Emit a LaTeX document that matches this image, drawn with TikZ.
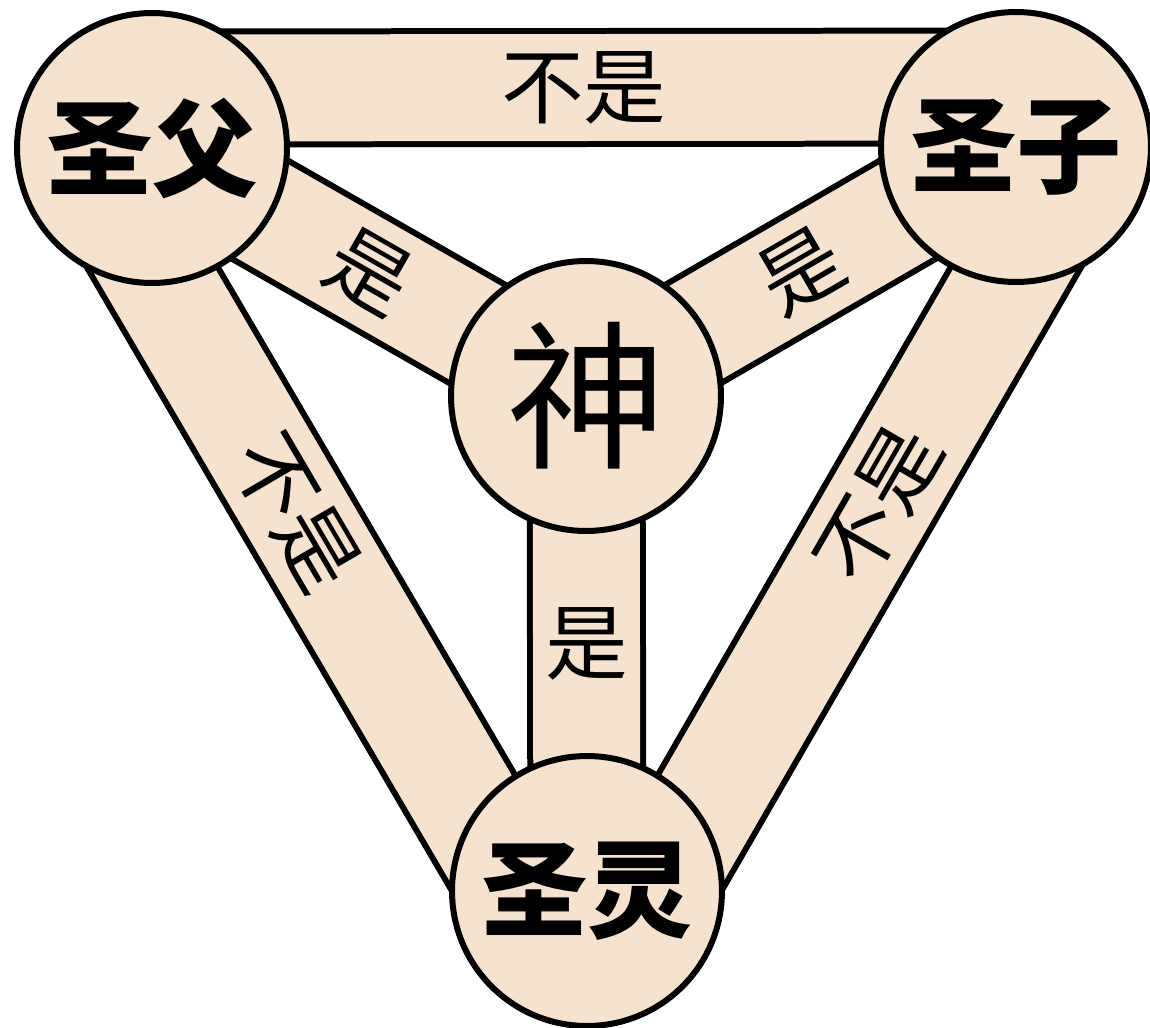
\documentclass[tikz,border=0pt]{standalone}
\usepackage{fontspec}
\newfontfamily\cjk{Noto Sans CJK SC}
\usetikzlibrary{calc}
\pgfdeclarelayer{background}
\pgfsetlayers{background,main}
\definecolor{shieldfill}{HTML}{F5E3CF}
\tikzset{
  person/.style={circle,draw=black,line width=0.12cm,fill=shieldfill,minimum size=5.4cm,inner sep=0pt,font=\cjk\bfseries\fontsize{60pt}{60pt}\selectfont},
  godhead/.style={person,font=\cjk\fontsize{91pt}{91pt}\selectfont},
  band/.style={draw=black,line width=0.12cm,double=shieldfill,double distance=2.14cm},
  bandlabel/.style={inner sep=0pt,font=\cjk\fontsize{47pt}{47pt}\selectfont}
}
\begin{document}
\begin{tikzpicture}[x=0.02cm,y=-0.02cm]
                  \useasboundingbox (0,0) rectangle (1150,1028);
                  \node [person] (father) at (152,148) {圣父};
                  \node [person] (son) at (1016,147) {圣子};
                  \node [person] (spirit) at (587,891) {圣灵};
                  \node [godhead] (god) at (586,396) {神};
                  \coordinate (fs1) at ($(father.center)!1.2cm!90:(son.center)$);
                  \coordinate (fs2) at ($(son.center)!1.2cm!-90:(father.center)$);
                  \coordinate (sh1) at ($(son.center)!1.2cm!90:(spirit.center)$);
                  \coordinate (sh2) at ($(spirit.center)!1.2cm!-90:(son.center)$);
                  \coordinate (hf1) at ($(spirit.center)!1.2cm!90:(father.center)$);
                  \coordinate (hf2) at ($(father.center)!1.2cm!-90:(spirit.center)$);
                  \begin{pgfonlayer}{background}
                  \fill [white] (0,0) rectangle (1150,1028);
                  \draw [band] (fs1) -- (fs2) node [bandlabel,midway] {不是};
                  \draw [band] (sh1) -- (sh2) node [bandlabel,pos=0.44,sloped] {不是};
                  \draw [band] (hf2) -- (hf1) node [bandlabel,pos=0.45,sloped] {不是};
                  \draw [band] (god.center) -- (father.center) node [bandlabel,midway,sloped] {是};
                  \draw [band] (god.center) -- (son.center) node [bandlabel,midway,sloped] {是};
                  \draw [band] (god.center) -- (spirit.center) node [bandlabel,midway] {是};
                  \end{pgfonlayer}
              \end{tikzpicture}
\end{document}
